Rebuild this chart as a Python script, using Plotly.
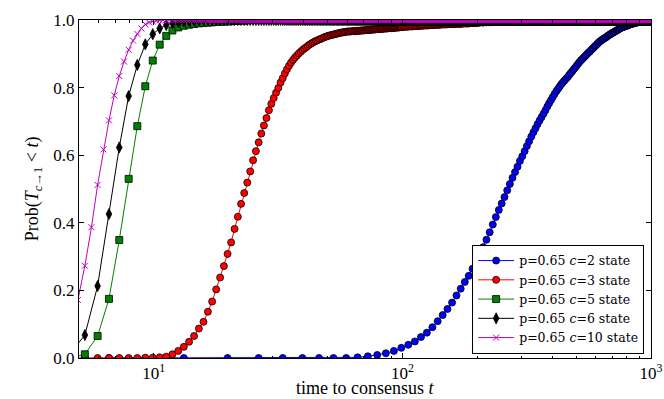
import plotly.graph_objects as go

# ---------------- data ----------------
T_START = 4.62
STEP_FINE = 0.33      # sampling step of c=10
STEP_MID = 0.66       # sampling step of c=3, c=5, c=6
STEP_COARSE = 6.6     # sampling step of c=2
T_MAX = 1000.0
saturated = 1.0

magenta_head = [0.09, 0.172, 0.273, 0.387, 0.512, 0.617, 0.703, 0.777, 0.834, 0.877,
                0.912, 0.939, 0.959, 0.975, 0.987, 0.993, 0.996, 0.998, 0.999]
black_head = [0.015, 0.068, 0.213, 0.426, 0.623, 0.775, 0.867, 0.928, 0.958, 0.975,
              0.985, 0.991, 0.994, 0.996, 0.997, 0.998, 0.999]
green_head = [0.0, 0.011, 0.065, 0.175, 0.349, 0.530, 0.686, 0.804, 0.880, 0.927,
              0.953, 0.969, 0.978, 0.983, 0.986, 0.988, 0.990, 0.991, 0.992, 0.993,
              0.994, 0.995, 0.995, 0.996, 0.996, 0.997, 0.997, 0.998, 0.998, 0.999]

# c=3 : step 0.66 from 4.62 to 99.66
red_a = [0.0, 0.0, 0.0, 0.0, 0.0, 0.0, 0.0, 0.001, 0.001, 0.002,
         0.004, 0.011, 0.021, 0.033, 0.048, 0.065, 0.087, 0.107, 0.137, 0.167,
         0.203, 0.238, 0.272, 0.308, 0.342, 0.382, 0.418, 0.456, 0.488, 0.519,
         0.552, 0.585, 0.612, 0.638, 0.664, 0.688, 0.710, 0.733, 0.752, 0.769,
         0.785, 0.799, 0.815, 0.828, 0.842, 0.854, 0.865, 0.874, 0.882, 0.889,
         0.895, 0.901, 0.906, 0.911, 0.915, 0.919, 0.923, 0.927, 0.930, 0.933,
         0.936, 0.938, 0.940, 0.942, 0.944, 0.946, 0.948, 0.950, 0.951, 0.953,
         0.954, 0.955, 0.956, 0.957, 0.958, 0.959, 0.960, 0.961, 0.962, 0.963,
         0.963, 0.964, 0.965, 0.965,
         0.966, 0.966, 0.966, 0.966, 0.967, 0.967, 0.967, 0.967, 0.968, 0.968,
         0.968, 0.968, 0.969, 0.969, 0.969, 0.969, 0.970, 0.970, 0.970, 0.970,
         0.971, 0.971, 0.971, 0.971, 0.972, 0.972, 0.972, 0.972, 0.973, 0.973,
         0.973, 0.973, 0.974, 0.974, 0.974, 0.974, 0.974, 0.975, 0.975, 0.975,
         0.975, 0.975, 0.976, 0.976, 0.976, 0.976, 0.976, 0.977, 0.977, 0.977,
         0.977, 0.977, 0.978, 0.978, 0.978, 0.978, 0.978, 0.979, 0.979, 0.979,
         0.979]
# c=3 : step 1.32 from 100.98 to 199.98
red_b_start, red_b_step = 100.98, 1.32
red_b = [0.980, 0.980, 0.980, 0.980, 0.981, 0.981, 0.981, 0.981, 0.982, 0.982,
         0.982, 0.982, 0.983, 0.983, 0.983, 0.983, 0.984, 0.984, 0.984, 0.984,
         0.984, 0.985, 0.985, 0.985, 0.985, 0.985, 0.986, 0.986, 0.986, 0.986,
         0.986, 0.986, 0.987, 0.987, 0.987, 0.987, 0.987, 0.987, 0.987, 0.988,
         0.988, 0.988, 0.988, 0.988, 0.988, 0.988, 0.988, 0.989, 0.989, 0.989,
         0.989, 0.989, 0.989, 0.989, 0.989, 0.989, 0.990, 0.990, 0.990, 0.990,
         0.990, 0.990, 0.990, 0.990, 0.990, 0.991, 0.991, 0.991, 0.991, 0.991,
         0.991, 0.991, 0.991, 0.991, 0.991, 0.991]
# c=3 : step 6.6 from 204.6 (then saturated)
red_c_start = 204.6
red_c = [0.992, 0.992, 0.993, 0.993, 0.994, 0.994, 0.995, 0.995, 0.995, 0.996,
         0.996, 0.996, 0.997, 0.997, 0.997, 0.997, 0.998, 0.998, 0.998, 0.998,
         0.998, 0.998, 0.998, 0.998, 0.999, 0.999, 0.999, 0.999, 0.999, 0.999,
         0.999, 0.999, 0.999, 0.999]

# c=2 : step 6.6 from 6.6
blue_start = 6.6
blue = [0.0, 0.0, 0.0, 0.0, 0.0, 0.0, 0.0, 0.0, 0.0,
        0.002, 0.005, 0.009, 0.014, 0.021, 0.030, 0.039, 0.049, 0.062, 0.075,
        0.091, 0.109, 0.127, 0.145, 0.164, 0.185, 0.205, 0.225, 0.243, 0.264,
        0.285, 0.306, 0.328, 0.350, 0.372, 0.395, 0.417, 0.438, 0.457, 0.476,
        0.496, 0.515, 0.533, 0.550, 0.566, 0.583, 0.597, 0.612, 0.627, 0.641,
        0.655, 0.668, 0.680, 0.692, 0.703, 0.713, 0.723, 0.733, 0.744, 0.754,
        0.763, 0.772, 0.781, 0.789, 0.796, 0.803, 0.810, 0.816, 0.821, 0.826,
        0.831, 0.837, 0.843, 0.848, 0.854, 0.859, 0.864, 0.870, 0.875, 0.880,
        0.884, 0.888, 0.892, 0.896, 0.900, 0.904, 0.907, 0.911, 0.915, 0.918,
        0.922, 0.925, 0.929, 0.932, 0.936, 0.938, 0.941, 0.943, 0.945, 0.947,
        0.949, 0.952, 0.954, 0.956, 0.958, 0.960, 0.962, 0.963, 0.965, 0.967,
        0.969, 0.970, 0.972, 0.974, 0.975, 0.977, 0.978, 0.979, 0.980, 0.981,
        0.982, 0.983, 0.984, 0.985, 0.986, 0.987, 0.988, 0.989, 0.989, 0.990,
        0.991, 0.991, 0.992, 0.993, 0.993, 0.994, 0.994, 0.995, 0.995, 0.996,
        0.996, 0.997, 0.997, 0.997, 0.998, 0.998, 0.998, 0.999, 0.999, 0.999,
        0.999, 1.0]

labels = ["p=0.65 <i>c</i>=2 state", "p=0.65 <i>c</i>=3 state", "p=0.65 <i>c</i>=5 state",
          "p=0.65 <i>c</i>=6 state", "p=0.65 <i>c</i>=10 state"]
x_title = "time to consensus <i>t</i>"
y_title = "Prob(<i>T</i><sub><i>c</i>→1</sub> &lt; <i>t</i>)"
x_tick_vals = [10, 100, 1000]
x_tick_text = ["10<sup>1</sup>", "10<sup>2</sup>", "10<sup>3</sup>"]
y_tick_vals = [0.0, 0.2, 0.4, 0.6, 0.8, 1.0]


# ---------------- helpers ----------------
def grid(start, step, n):
    return [round(start + step * i, 4) for i in range(n)]


def full_series(start, step, head, tail_value):
    n = int((T_MAX - start) / step + 1e-9) + 1
    t = grid(start, step, n)
    v = list(head) + [tail_value] * (n - len(head))
    return t, v


t_mag, v_mag = full_series(T_START, STEP_FINE, magenta_head, saturated)
t_blk, v_blk = full_series(T_START, STEP_MID, black_head, saturated)
t_grn, v_grn = full_series(T_START, STEP_MID, green_head, saturated)

t_red = grid(T_START, STEP_MID, len(red_a)) + grid(red_b_start, red_b_step, len(red_b))
v_red = list(red_a) + list(red_b)
t_rc, v_rc = full_series(red_c_start, STEP_COARSE, red_c, saturated)
t_red += t_rc
v_red += v_rc

t_blue = grid(blue_start, STEP_COARSE, len(blue))

FONT = "Liberation Serif, DejaVu Serif, serif"
LEGEND_FONT = "DejaVu Serif, Liberation Serif, serif"
EDGE = dict(color="black", width=0.8)
fig = go.Figure()

fig.add_trace(go.Scatter(
    x=t_blue, y=blue, mode="lines+markers", name=labels[0],
    line=dict(color="#0000ff", width=1),
    marker=dict(symbol="circle", size=7, color="#0000ff", line=EDGE)))
fig.add_trace(go.Scatter(
    x=t_red, y=v_red, mode="lines+markers", name=labels[1],
    line=dict(color="#ff0000", width=1),
    marker=dict(symbol="circle", size=7, color="#ff0000", line=EDGE)))
fig.add_trace(go.Scatter(
    x=t_grn, y=v_grn, mode="lines+markers", name=labels[2],
    line=dict(color="#008000", width=1),
    marker=dict(symbol="square", size=7, color="#008000", line=EDGE)))
fig.add_trace(go.Scatter(
    x=t_blk, y=v_blk, mode="lines+markers", name=labels[3],
    line=dict(color="black", width=1),
    marker=dict(symbol="diamond-tall", size=8, color="black", line=EDGE)))
fig.add_trace(go.Scatter(
    x=t_mag, y=v_mag, mode="lines+markers", name=labels[4],
    line=dict(color="#bf00bf", width=1),
    marker=dict(symbol="x-thin", size=6, color="#bf00bf", line=dict(color="#bf00bf", width=1))))

minor_vals = [m * 10 ** e for e in (0, 1, 2) for m in range(2, 10)]

fig.update_layout(
    width=664, height=399,
    margin=dict(l=79, r=13, t=20, b=41),
    paper_bgcolor="white", plot_bgcolor="white",
    font=dict(family=FONT, size=17, color="black"),
    showlegend=True,
    legend=dict(
        x=0.988, y=0.012, xanchor="right", yanchor="bottom",
        bordercolor="black", borderwidth=1, bgcolor="white",
        font=dict(family=LEGEND_FONT, size=12.5, color="black"),
        tracegroupgap=0, itemwidth=36,
    ),
    xaxis=dict(
        type="log", range=[0.69897, 3.0], automargin=False,
        tickmode="array", tickvals=x_tick_vals, ticktext=x_tick_text,
        ticks="inside", ticklen=5, tickwidth=1, tickcolor="black",
        minor=dict(tickvals=minor_vals, ticks="inside", ticklen=2.5, tickwidth=1,
                   tickcolor="black", showgrid=False),
        showline=True, linecolor="black", linewidth=1, mirror="allticks",
        showgrid=False, zeroline=False,
        tickfont=dict(family=FONT, size=17),
    ),
    yaxis=dict(
        range=[0, 1], automargin=False,
        tickmode="array", tickvals=y_tick_vals, tickformat=".1f",
        ticks="inside", ticklen=5, tickwidth=1, tickcolor="black",
        showline=True, linecolor="black", linewidth=1, mirror="allticks",
        showgrid=False, zeroline=False,
        tickfont=dict(family=FONT, size=17),
    ),
    annotations=[
        dict(text=x_title, xref="paper", yref="paper", x=0.5, y=-0.088,
             xanchor="center", yanchor="middle", showarrow=False,
             font=dict(family=FONT, size=18)),
        dict(text=y_title, xref="paper", yref="paper", x=-0.08, y=0.5,
             xanchor="center", yanchor="middle", textangle=-90, showarrow=False,
             font=dict(family=FONT, size=18)),
    ],
)

# remove the default 8 px body margin so the figure fills the window exactly
fig.write_html("out.html", config={"displayModeBar": False},
               post_script="document.body.style.margin='0';")
